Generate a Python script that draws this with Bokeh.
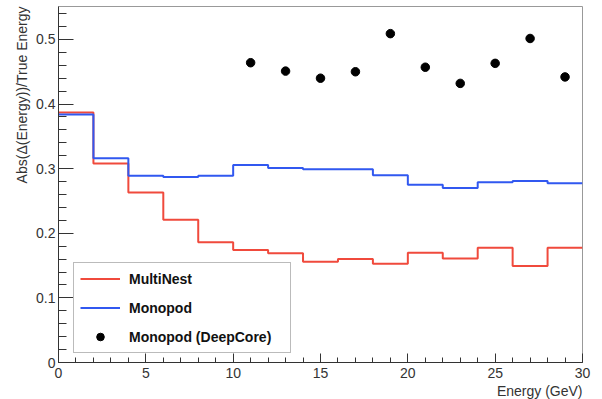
import numpy as np
from bokeh.plotting import figure
from bokeh.models import Range1d, Title, Legend, LegendItem, FixedTicker
from bokeh.embed import file_html
from bokeh.resources import INLINE

# bin edges (GeV)
bin_edges = [0, 2, 4, 6, 8, 10, 12, 14, 16, 18, 20, 22, 24, 26, 28, 30]
multinest = [0.387, 0.308, 0.263, 0.221, 0.186, 0.174, 0.169, 0.156, 0.160, 0.153,
             0.170, 0.161, 0.1775, 0.1495, 0.1775]
monopod = [0.384, 0.316, 0.289, 0.287, 0.289, 0.3055, 0.301, 0.299, 0.299, 0.290,
           0.275, 0.270, 0.279, 0.281, 0.2775]
deepcore_x = [11, 13, 15, 17, 19, 21, 23, 25, 27, 29]
deepcore_y = [0.464, 0.451, 0.440, 0.450, 0.509, 0.457, 0.432, 0.463, 0.5015, 0.442]

FONT = "Liberation Sans"
RED = "#f04a3c"
BLUE = "#3158f0"

p = figure(width=602, height=399, output_backend="svg", toolbar_location=None,
           x_range=Range1d(0, 30), y_range=Range1d(0, 0.551),
           min_border_left=58, min_border_right=20, min_border_top=6, min_border_bottom=37)
p.xgrid.visible = False
p.ygrid.visible = False
p.outline_line_color = "#999999"
p.outline_line_width = 1
p.background_fill_color = "white"
p.border_fill_color = "white"

r_mn = p.step(bin_edges, multinest + [multinest[-1]], mode="after", line_color=RED, line_width=2)
r_mp = p.step(bin_edges, monopod + [monopod[-1]], mode="after", line_color=BLUE, line_width=2)
r_dc = p.scatter(deepcore_x, deepcore_y, size=8.5, color="black")

for ax in (p.xaxis[0], p.yaxis[0]):
    ax.axis_line_color = "#333333"
    ax.major_tick_line_color = "#333333"
    ax.minor_tick_line_color = "#333333"
    ax.major_tick_out = 0
    ax.minor_tick_out = 0
    ax.major_label_text_font = FONT
    ax.major_label_text_font_size = "14px"
    ax.major_label_text_color = "#333333"

p.xaxis.ticker = FixedTicker(ticks=[0, 5, 10, 15, 20, 25, 30],
                             minor_ticks=list(range(0, 31)))
p.xaxis.major_tick_in = 9
p.xaxis.minor_tick_in = 5
p.xaxis.major_label_standoff = 5

p.yaxis.ticker = FixedTicker(ticks=[0, 0.1, 0.2, 0.3, 0.4, 0.5],
                             minor_ticks=[round(i * 0.02, 2) for i in range(0, 28)])
p.yaxis.major_tick_in = 15
p.yaxis.minor_tick_in = 8
p.yaxis.major_label_standoff = 3
p.yaxis.major_label_overrides = {0: "0"}
p.xaxis.major_label_overrides = {0: "0"}

legend = Legend(items=[LegendItem(label="MultiNest", renderers=[r_mn]),
                       LegendItem(label="Monopod", renderers=[r_mp]),
                       LegendItem(label="Monopod (DeepCore)", renderers=[r_dc])],
                location=(15, 9), orientation="vertical")
legend.label_text_font = FONT
legend.label_text_font_style = "bold"
legend.label_text_font_size = "14px"
legend.label_text_color = "#111111"
legend.padding = 6
legend.spacing = 10
legend.label_height = 19
legend.glyph_height = 19
legend.glyph_width = 40
legend.label_standoff = 9
legend.label_width = 155
legend.border_line_color = "#777777"
legend.border_line_width = 1
legend.background_fill_alpha = 1.0
legend.margin = 0
p.add_layout(legend)

ytitle = Title(text="Abs(\u0394(Energy))/True Energy", align="right",
               text_font=FONT, text_font_size="14px", text_font_style="normal",
               text_color="#333333", standoff=7, offset=0)
xtitle = Title(text="Energy (GeV)", align="right",
               text_font=FONT, text_font_size="14px", text_font_style="normal",
               text_color="#333333", standoff=0, offset=0)
p.add_layout(ytitle, "left")
p.add_layout(xtitle, "below")

open("out.html", "w").write(file_html(p, INLINE))
